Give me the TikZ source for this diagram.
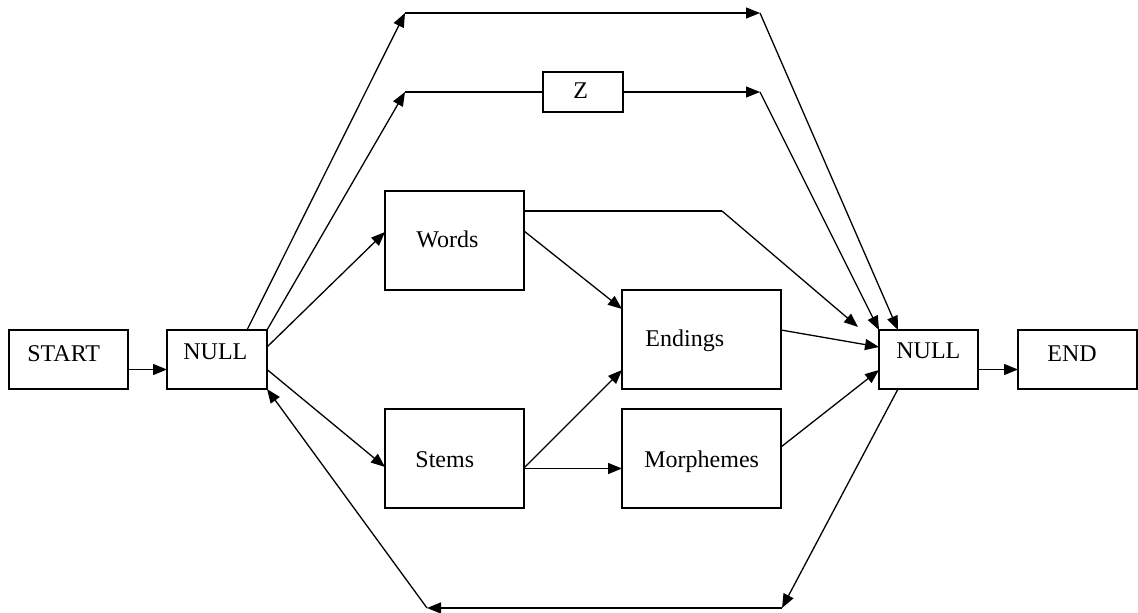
\documentclass[tikz,border=0pt]{standalone}
\usepackage{fontspec}
\setmainfont{Liberation Serif}
\usetikzlibrary{arrows.meta,calc}
\begin{document}
\begin{tikzpicture}[x=0.5pt,y=-0.5pt,
  box/.style={draw,line width=0.7pt,rectangle,inner sep=0pt,outer sep=0pt},
  lbl/.style={anchor=base west,inner sep=0pt,font=\fontsize{12pt}{14pt}\selectfont},
  link/.style={line width=0.65pt},
  arr/.style={link,-{Triangle[length=7pt,width=5.5pt]}}]
\useasboundingbox (0,0) rectangle (1138,613);

% boxes
\node[box,minimum width=59.5pt,minimum height=29.5pt] (start)   at (68.5,359.5) {};
\node[box,minimum width=50pt,  minimum height=29.5pt] (nullL)   at (217,359.5) {};
\node[box,minimum width=69.5pt,minimum height=49.5pt] (words)   at (454.5,240.5) {};
\node[box,minimum width=79.5pt,minimum height=49.5pt] (endings) at (701.5,339.5) {};
\node[box,minimum width=69.5pt,minimum height=49.5pt] (stems)   at (454.5,458.5) {};
\node[box,minimum width=79.5pt,minimum height=49.5pt] (morph)   at (701.5,458.5) {};
\node[box,minimum width=40pt,  minimum height=20pt]   (z)       at (583,92) {};
\node[box,minimum width=49.5pt,minimum height=29.5pt] (nullR)   at (928.5,359.5) {};
\node[box,minimum width=59.5pt,minimum height=29.5pt] (end)     at (1077.5,359.5) {};

% box texts
\node[lbl] (tstart) at (27,362)   {START};
\node[lbl] (tnullL) at (183,360)  {NULL};
\node[lbl] (twords) at (416,248)  {Words};
\node[lbl] (tend)   at (645,347)  {Endings};
\node[lbl] (tstems) at (415,467)  {Stems};
\node[lbl] (tmorph) at (644,467)  {Morphemes};
\node[lbl] (tz)     at (573,99)   {Z};
\node[lbl] (tnullR) at (896,359)  {NULL};
\node[lbl] (tendb)  at (1047,362) {END};

% bend points
\coordinate (t1) at (405,13);
\coordinate (t2) at (760,13);
\coordinate (m1) at (405,92);
\coordinate (m2) at (760,92);
\coordinate (w1) at (722,211);
\coordinate (b1) at (427,608);
\coordinate (b2) at (782,608);

% main chain
\draw[arr] ($(start.east)+(0,10)$) -- ($(nullL.west)+(0,10)$);
\draw[arr] ($(nullR.east)+(0,10)$) -- ($(end.west)+(0,10)$);

% top bypass
\draw[arr] ($(nullL.north west)+(80,0)$) -- (t1);
\draw[arr] (t1) -- (t2);
\draw[arr] (t2) -- ($(nullR.north west)+(19,0)$);

% bypass through Z
\draw[arr] (nullL.north east) -- (m1);
\draw[link] (m1) -- (z.west);
\draw[arr] (z.east) -- (m2);
\draw[arr] (m2) -- (nullR.north west);

% NULL to Words and Stems
\draw[arr] ($(nullL.east)+(0,-12.5)$) -- ($(words.west)+(0,-8.5)$);
\draw[arr] ($(nullL.east)+(0,10)$) -- ($(stems.west)+(0,8.5)$);

% Words outputs
\draw[link] ($(words.east)+(0,-29.5)$) -- (w1);
\draw[arr] (w1) -- ($(nullR.north west)+(-21,-3)$);
\draw[arr] ($(words.east)+(0,-9.5)$) -- ($(endings.west)+(0,-30.5)$);

% Stems outputs
\draw[arr] ($(stems.east)+(0,9.5)$) -- ($(endings.west)+(0,30.5)$);
\draw[arr] ($(stems.east)+(0,10)$) -- ($(morph.west)+(0,10)$);

% into the right NULL
\draw[arr] ($(endings.east)+(0,-9.5)$) -- ($(nullR.west)+(0,-12.5)$);
\draw[arr] ($(morph.east)+(0,-11.5)$) -- ($(nullR.west)+(0,10.5)$);

% loop back along the bottom
\draw[arr] ($(nullR.south west)+(19,0)$) -- (b2);
\draw[arr] (b2) -- (b1);
\draw[arr] (b1) -- (nullL.south east);
\end{tikzpicture}
\end{document}
